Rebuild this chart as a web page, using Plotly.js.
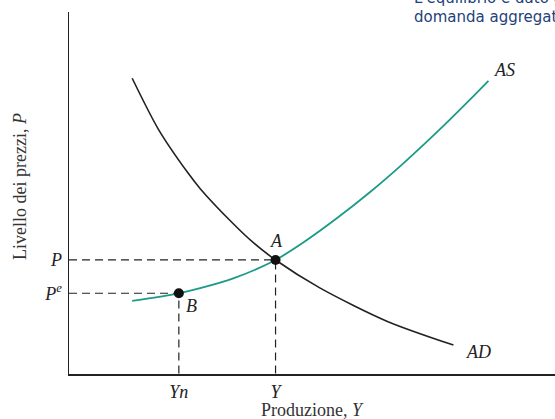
<!DOCTYPE html>
<html>
<head>
<meta charset="utf-8">
<script src="https://cdn.plot.ly/plotly-3.0.1.min.js"></script>
<style>
  html, body { margin: 0; padding: 0; background: #fff; }
  #chart { width: 555px; height: 419px; }
</style>
</head>
<body>
<div id="chart"></div>
<script>
// aggregate demand curve (output Y, price level P)
const adX = [1.30, 1.84, 2.45, 2.70, 3.38, 3.80, 4.25, 5.16, 6.54, 7.91];
const adY = [8.17, 6.76, 5.55, 5.12, 4.15, 3.62, 3.15, 2.38, 1.46, 0.80];

// aggregate supply curve
const asX = [1.30, 2.26, 2.70, 3.38, 4.25, 4.82, 5.51, 6.19, 6.88, 7.57, 8.25, 8.63];
const asY = [2.02, 2.23, 2.37, 2.64, 3.15, 3.63, 4.30, 5.02, 5.82, 6.68, 7.58, 8.10];

// equilibrium points A and B
const pointNames = ['A', 'B'];
const pointX = [4.25, 2.26];
const pointY = [3.15, 2.23];

// axis labels
const xTickVals = [2.26, 4.25];
const xTickText = ['Yn', 'Y'];
const yTickVals = [3.15, 2.23];
const yTickText = ['P', 'P<sup>e</sup>'];

const serif = 'Liberation Serif, Times New Roman, serif';
const sans = 'DejaVu Sans, Verdana, sans-serif';

function dashTrace(px, py) {
  return {
    x: [0, px, px],
    y: [py, py, 0],
    mode: 'lines',
    line: { color: '#222', width: 1.2, dash: '8px,5px' },
    hoverinfo: 'skip'
  };
}

let traces = [
  dashTrace(pointX[0], pointY[0]),
  dashTrace(pointX[1], pointY[1]),
  {
    x: adX, y: adY, mode: 'lines', name: 'AD',
    line: { color: '#222', width: 1.6, shape: 'spline', smoothing: 0.8 }
  },
  {
    x: asX, y: asY, mode: 'lines', name: 'AS',
    line: { color: '#1c9a88', width: 1.8, shape: 'spline', smoothing: 0.8 }
  },
  {
    x: pointX, y: pointY, mode: 'markers',
    marker: { color: '#111', size: 10 }
  }
];

let labelFont = { family: serif, size: 18, color: '#222', style: 'italic' };
let titleFont = { family: serif, size: 18, color: '#333' };
let captionFont = { family: sans, size: 15, color: '#243f7a' };

let annotations = [
  { x: 8.97, y: 8.40, text: 'AS', showarrow: false, font: labelFont },
  { x: 8.42, y: 0.61, text: 'AD', showarrow: false, font: labelFont },
  { x: 4.26, y: 3.67, text: pointNames[0], showarrow: false, font: labelFont },
  { x: 2.53, y: 1.88, text: pointNames[1], showarrow: false, font: labelFont },
  // axis titles
  {
    xref: 'paper', yref: 'paper', x: 0.502, y: -0.099, xanchor: 'center', yanchor: 'middle',
    text: 'Produzione, <i>Y</i>', showarrow: false, font: titleFont
  },
  {
    xref: 'paper', yref: 'paper', x: -0.101, y: 0.519, xanchor: 'center', yanchor: 'middle',
    text: 'Livello dei prezzi, <i>P</i>', textangle: -90, showarrow: false, font: titleFont
  },
  // caption cut off at the top of the picture
  {
    xref: 'paper', yref: 'paper', x: 0.706, y: 1.0095, xanchor: 'left', yanchor: 'bottom',
    text: "L'equilibrio è dato dall'intersezione", showarrow: false, font: captionFont
  },
  {
    xref: 'paper', yref: 'paper', x: 0.706, y: 0.9545, xanchor: 'left', yanchor: 'bottom',
    text: 'domanda aggregata e offerta', showarrow: false, font: captionFont
  }
];

let layout = {
  width: 555,
  height: 419,
  margin: { l: 69, r: 0, t: 12, b: 45 },
  paper_bgcolor: '#fff',
  plot_bgcolor: '#fff',
  showlegend: false,
  xaxis: {
    range: [0, 10],
    showgrid: false, zeroline: false,
    showline: true, linecolor: '#222', linewidth: 1.5,
    tickvals: xTickVals, ticktext: xTickText,
    ticks: 'outside', ticklen: 1, tickcolor: 'rgba(0,0,0,0)',
    tickfont: labelFont
  },
  yaxis: {
    range: [0, 10],
    showgrid: false, zeroline: false,
    showline: true, linecolor: '#222', linewidth: 1.5,
    tickvals: yTickVals, ticktext: yTickText,
    ticks: 'outside', ticklen: 2, tickcolor: 'rgba(0,0,0,0)',
    tickfont: labelFont
  },
  annotations: annotations
};

Plotly.newPlot('chart', traces, layout, { displayModeBar: false, staticPlot: true });
</script>
</body>
</html>
